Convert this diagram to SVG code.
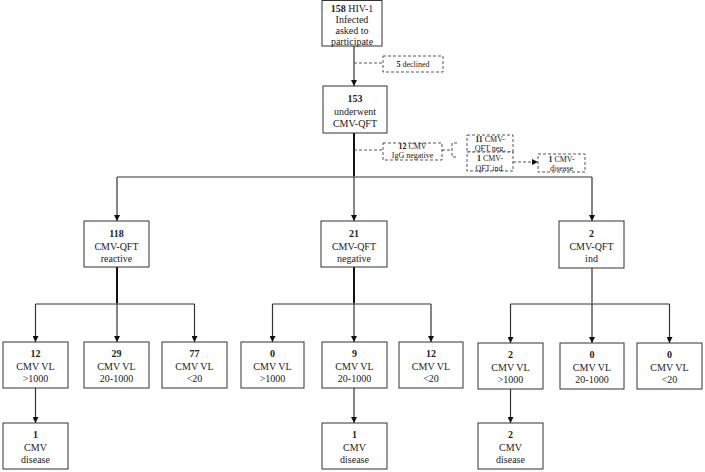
<svg xmlns="http://www.w3.org/2000/svg" width="705" height="472" viewBox="0 0 705 472">
<defs>
<style>
.box{fill:#fff;stroke:#333;stroke-width:1}
.dbox{fill:#fff;stroke:#444;stroke-width:0.9;stroke-dasharray:3 2}
.t{font-family:"Liberation Serif","Times New Roman",serif;font-size:10px;fill:#222;text-anchor:middle}
.s{font-family:"Liberation Serif","Times New Roman",serif;font-size:8px;fill:#222;text-anchor:middle}
.b{font-weight:bold}
.ln{fill:none;stroke:#333;stroke-width:1.2}
.thk{fill:none;stroke:#111;stroke-width:2}
.hz{fill:none;stroke:#777;stroke-width:1.5}
.dl{fill:none;stroke:#444;stroke-width:0.9;stroke-dasharray:3 2}
</style>
<marker id="ah" viewBox="0 0 10 10" refX="10" refY="5" markerWidth="6" markerHeight="6" markerUnits="userSpaceOnUse" orient="auto">
<path d="M0,0 L10,5 L0,10 z" fill="#111"/>
</marker>
</defs>
<rect width="705" height="472" fill="#fff"/>
<g id="connectors">
<line class="ln" x1="354" y1="46" x2="354" y2="86" marker-end="url(#ah)"/>
<line class="dl" x1="354" y1="63" x2="383" y2="63"/>
<line class="thk" x1="354" y1="133" x2="354" y2="177"/>
<line class="dl" x1="354" y1="150" x2="383" y2="150"/>
<line class="dl" x1="442" y1="150" x2="452" y2="150"/>
<path class="dl" d="M457,143 H452 V157 H457"/>
<line class="dl" x1="513" y1="162" x2="538" y2="162" marker-end="url(#ah)"/>
<line class="hz" x1="117" y1="177" x2="592" y2="177"/>
<line class="ln" x1="117" y1="177" x2="117" y2="221" marker-end="url(#ah)"/>
<line class="ln" x1="354" y1="177" x2="354" y2="221" marker-end="url(#ah)"/>
<line class="ln" x1="592" y1="177" x2="592" y2="221" marker-end="url(#ah)"/>
<line class="thk" x1="117" y1="267" x2="117" y2="304"/>
<line class="thk" x1="354" y1="267" x2="354" y2="304"/>
<line class="ln" x1="592" y1="268" x2="592" y2="304"/>
<line class="hz" x1="35.5" y1="304" x2="194.5" y2="304"/>
<line class="hz" x1="272.5" y1="304" x2="431" y2="304"/>
<line class="hz" x1="510.5" y1="304" x2="669.5" y2="304"/>
<line class="ln" x1="35.5" y1="304" x2="35.5" y2="342" marker-end="url(#ah)"/>
<line class="ln" x1="117" y1="304" x2="117" y2="342" marker-end="url(#ah)"/>
<line class="ln" x1="194.5" y1="304" x2="194.5" y2="342" marker-end="url(#ah)"/>
<line class="ln" x1="272.5" y1="304" x2="272.5" y2="342" marker-end="url(#ah)"/>
<line class="ln" x1="354" y1="304" x2="354" y2="342" marker-end="url(#ah)"/>
<line class="ln" x1="431" y1="304" x2="431" y2="342" marker-end="url(#ah)"/>
<line class="ln" x1="510.5" y1="304" x2="510.5" y2="343" marker-end="url(#ah)"/>
<line class="ln" x1="592" y1="304" x2="592" y2="343" marker-end="url(#ah)"/>
<line class="ln" x1="669.5" y1="304" x2="669.5" y2="343" marker-end="url(#ah)"/>
<line class="ln" x1="35.5" y1="388" x2="35.5" y2="423" marker-end="url(#ah)"/>
<line class="ln" x1="354" y1="388" x2="354" y2="423" marker-end="url(#ah)"/>
<line class="ln" x1="510.5" y1="389" x2="510.5" y2="423" marker-end="url(#ah)"/>
</g>
<g id="n158">
<rect class="box" x="322" y="0.5" width="60" height="45.5"/>
<text class="t" x="352" y="12"><tspan class="b">158</tspan> HIV-1</text>
<text class="t" x="352" y="23">Infected</text>
<text class="t" x="352" y="34">asked to</text>
<text class="t" x="352" y="45">participate</text>
</g>
<g id="declined">
<rect class="dbox" x="383" y="56" width="60" height="16"/>
<text class="s" x="413" y="67"><tspan class="b">5</tspan> declined</text>
</g>
<g id="n153">
<rect class="box" x="323" y="86" width="64" height="47"/>
<text class="t b" x="355" y="102">153</text>
<text class="t" x="355" y="114.5">underwent</text>
<text class="t" x="355" y="127">CMV-QFT</text>
</g>
<g id="igg">
<rect class="dbox" x="383" y="143" width="59" height="17"/>
<text class="s" x="412.5" y="149"><tspan class="b">12</tspan> CMV</text>
<text class="s" x="412.5" y="158">IgG negative</text>
</g>
<g id="qftneg">
<rect class="dbox" x="467" y="135" width="46" height="17"/>
<text class="s" x="490" y="142"><tspan class="b">11</tspan> CMV-</text>
<text class="s" x="490" y="151">QFT neg.</text>
</g>
<g id="qftind">
<rect class="dbox" x="467" y="152" width="46" height="19"/>
<text class="s" x="490" y="161"><tspan class="b">1</tspan> CMV-</text>
<text class="s" x="490" y="170.5">QFT ind.</text>
</g>
<g id="disease0">
<rect class="dbox" x="538" y="154" width="47" height="18"/>
<text class="s" x="561.5" y="162"><tspan class="b">1</tspan> CMV-</text>
<text class="s" x="561.5" y="170.5">disease</text>
</g>
<g id="n118">
<rect class="box" x="84" y="221" width="65" height="46"/>
<text class="t b" x="116.5" y="237">118</text>
<text class="t" x="116.5" y="249.5">CMV-QFT</text>
<text class="t" x="116.5" y="262">reactive</text>
</g>
<g id="n21">
<rect class="box" x="321" y="221" width="66" height="46"/>
<text class="t b" x="354" y="237">21</text>
<text class="t" x="354" y="249.5">CMV-QFT</text>
<text class="t" x="354" y="262">negative</text>
</g>
<g id="n2">
<rect class="box" x="559" y="221" width="65" height="47"/>
<text class="t b" x="591.5" y="237">2</text>
<text class="t" x="591.5" y="249.5">CMV-QFT</text>
<text class="t" x="591.5" y="262">ind</text>
</g>
<g id="l1">
<rect class="box" x="3" y="342" width="65" height="46"/>
<text class="t b" x="35.5" y="357">12</text>
<text class="t" x="35.5" y="369.5">CMV VL</text>
<text class="t" x="35.5" y="382">&gt;1000</text>
</g>
<g id="l2">
<rect class="box" x="84" y="342" width="65" height="46"/>
<text class="t b" x="116.5" y="357">29</text>
<text class="t" x="116.5" y="369.5">CMV VL</text>
<text class="t" x="116.5" y="382">20-1000</text>
</g>
<g id="l3">
<rect class="box" x="162" y="342" width="65" height="46"/>
<text class="t b" x="194.5" y="357">77</text>
<text class="t" x="194.5" y="369.5">CMV VL</text>
<text class="t" x="194.5" y="382">&lt;20</text>
</g>
<g id="m1">
<rect class="box" x="241" y="342" width="63" height="46"/>
<text class="t b" x="272.5" y="357">0</text>
<text class="t" x="272.5" y="369.5">CMV VL</text>
<text class="t" x="272.5" y="382">&gt;1000</text>
</g>
<g id="m2">
<rect class="box" x="322" y="342" width="65" height="46"/>
<text class="t b" x="354.5" y="357">9</text>
<text class="t" x="354.5" y="369.5">CMV VL</text>
<text class="t" x="354.5" y="382">20-1000</text>
</g>
<g id="m3">
<rect class="box" x="399" y="342" width="64" height="46"/>
<text class="t b" x="431" y="357">12</text>
<text class="t" x="431" y="369.5">CMV VL</text>
<text class="t" x="431" y="382">&lt;20</text>
</g>
<g id="r1">
<rect class="box" x="478" y="343" width="65" height="46"/>
<text class="t b" x="510.5" y="358">2</text>
<text class="t" x="510.5" y="370.5">CMV VL</text>
<text class="t" x="510.5" y="383">&gt;1000</text>
</g>
<g id="r2">
<rect class="box" x="560" y="343" width="64" height="46"/>
<text class="t b" x="592" y="358">0</text>
<text class="t" x="592" y="370.5">CMV VL</text>
<text class="t" x="592" y="383">20-1000</text>
</g>
<g id="r3">
<rect class="box" x="637" y="343" width="65" height="46"/>
<text class="t b" x="669.5" y="358">0</text>
<text class="t" x="669.5" y="370.5">CMV VL</text>
<text class="t" x="669.5" y="383">&lt;20</text>
</g>
<g id="d1">
<rect class="box" x="3" y="423" width="65" height="46"/>
<text class="t b" x="35.5" y="438">1</text>
<text class="t" x="35.5" y="450.5">CMV</text>
<text class="t" x="35.5" y="463">disease</text>
</g>
<g id="d2">
<rect class="box" x="322" y="423" width="65" height="46"/>
<text class="t b" x="354.5" y="438">1</text>
<text class="t" x="354.5" y="450.5">CMV</text>
<text class="t" x="354.5" y="463">disease</text>
</g>
<g id="d3">
<rect class="box" x="478" y="423" width="65" height="46"/>
<text class="t b" x="510.5" y="438">2</text>
<text class="t" x="510.5" y="450.5">CMV</text>
<text class="t" x="510.5" y="463">disease</text>
</g>
</svg>
